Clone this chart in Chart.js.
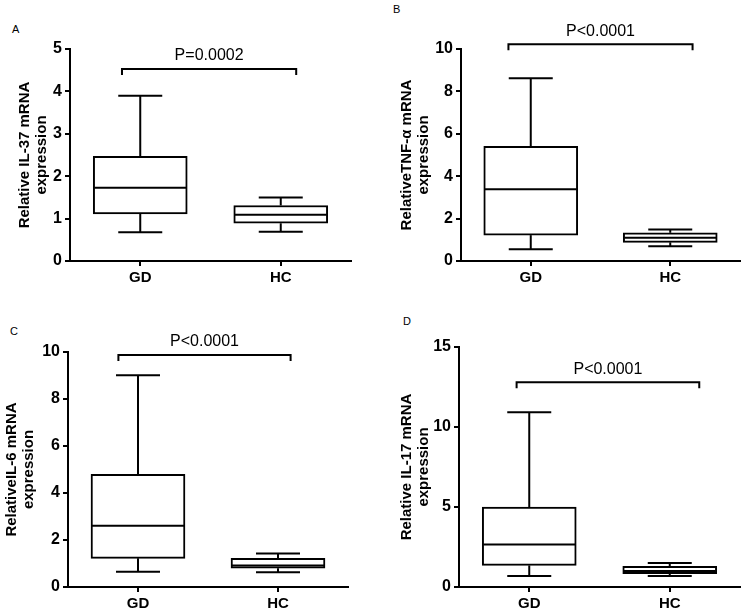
<!DOCTYPE html>
<html>
<head>
<meta charset="utf-8">
<script src="https://cdn.jsdelivr.net/npm/chart.js@4.4.1/dist/chart.umd.min.js"></script>
<style>
  body { margin: 0; background: #fff; width: 745px; height: 611px; position: relative; overflow: hidden; }
  canvas { position: absolute; }
  .tag { position: absolute; font: 11px "Liberation Sans", Arial, sans-serif; line-height: 11px; color: #000; }
</style>
</head>
<body>
<div class="tag" style="left:12px;top:24px">A</div>
<div class="tag" style="left:393px;top:4px">B</div>
<div class="tag" style="left:10px;top:326px">C</div>
<div class="tag" style="left:403px;top:316px">D</div>
<canvas id="c0" width="372" height="305" style="left:0;top:0"></canvas>
<canvas id="c1" width="373" height="305" style="left:372px;top:0"></canvas>
<canvas id="c2" width="372" height="306" style="left:0;top:305px"></canvas>
<canvas id="c3" width="373" height="306" style="left:372px;top:305px"></canvas>
<script>
const groups = ['GD', 'HC'];

// box stats: [min, q1, median, q3, max]
const il37GD = [0.68, 1.11, 1.73, 2.47, 3.90];
const il37HC = [0.69, 0.89, 1.09, 1.31, 1.50];
const tnfGD = [0.56, 1.22, 3.39, 5.41, 8.62];
const tnfHC = [0.69, 0.88, 1.10, 1.33, 1.49];
const il6GD = [0.65, 1.22, 2.61, 4.79, 9.01];
const il6HC = [0.63, 0.80, 0.92, 1.22, 1.43];
const il17GD = [0.69, 1.35, 2.65, 5.00, 10.92];
const il17HC = [0.69, 0.83, 1.00, 1.29, 1.50];

const yTitles = [
  ['Relative IL-37 mRNA', 'expression'],
  ['RelativeTNF-\u03b1 mRNA', 'expression'],
  ['RelativeIL-6 mRNA', 'expression'],
  ['Relative IL-17 mRNA', 'expression']
];
const yMax = [5, 10, 10, 15];
const yStep = [1, 2, 2, 5];
const pLabels = ['P=0.0002', 'P<0.0001', 'P<0.0001', 'P<0.0001'];
const bracketY = [4.53, 10.22, 9.87, 12.8];
const bracketX = [[-0.13, 1.11], [-0.16, 1.16], [-0.14, 1.09], [-0.09, 1.21]];

const panelStats = [[il37GD, il37HC], [tnfGD, tnfHC], [il6GD, il6HC], [il17GD, il17HC]];

// where each panel's plot area sits (page pixels)
const layouts = [
  { left: 0,   top: 0,   w: 372, h: 305, l: 70,  t: 49,  r: 351, b: 261, titlePad: 16 },
  { left: 372, top: 0,   w: 373, h: 305, l: 461, t: 49,  r: 740, b: 261, titlePad: 26 },
  { left: 0,   top: 305, w: 372, h: 306, l: 68,  t: 352, r: 348, b: 587, titlePad: 3 },
  { left: 372, top: 305, w: 373, h: 306, l: 459, t: 347, r: 740, b: 587, titlePad: 26 }
];

Chart.defaults.font.family = '"Liberation Sans", Arial, sans-serif';
Chart.defaults.color = '#000';

const boxParts = {
  id: 'boxParts',
  afterDatasetsDraw(chart, args, opts) {
    const { ctx, scales: { x, y } } = chart;
    const line = (x1, y1, x2, y2) => {
      ctx.beginPath(); ctx.moveTo(x1, y1); ctx.lineTo(x2, y2); ctx.stroke();
    };
    ctx.save();
    ctx.strokeStyle = '#000';
    ctx.lineWidth = 2;
    opts.stats.forEach((s, i) => {
      const cx = x.getPixelForValue(i);
      const cap = 22, half = 46;
      const [lo, q1, med, q3, hi] = s.map(v => y.getPixelForValue(v));
      line(cx, lo, cx, q1);
      line(cx, q3, cx, hi);
      line(cx - cap, lo, cx + cap, lo);
      line(cx - cap, hi, cx + cap, hi);
      line(cx - half, med, cx + half, med);
    });
    // significance bracket
    const by = y.getPixelForValue(opts.bracket);
    const bx0 = x.getPixelForValue(opts.bracketX[0]);
    const bx1 = x.getPixelForValue(opts.bracketX[1]);
    ctx.beginPath();
    ctx.moveTo(bx0, by + 6); ctx.lineTo(bx0, by); ctx.lineTo(bx1, by); ctx.lineTo(bx1, by + 6);
    ctx.stroke();
    ctx.fillStyle = '#000';
    ctx.font = '16px "Liberation Sans", Arial, sans-serif';
    ctx.textAlign = 'center';
    ctx.textBaseline = 'bottom';
    ctx.fillText(opts.label, (bx0 + bx1) / 2, by - 5);
    ctx.restore();
  }
};

layouts.forEach((lay, p) => {
  const stats = panelStats[p];
  new Chart(document.getElementById('c' + p), {
    type: 'bar',
    data: {
      datasets: [{
        data: stats.map((s, i) => ({ x: i, y: [s[1], s[3]] })),
        backgroundColor: '#fff',
        borderColor: '#000',
        borderWidth: 2,
        borderSkipped: false,
        barThickness: 94
      }]
    },
    plugins: [boxParts],
    options: {
      responsive: false,
      animation: false,
      events: [],
      layout: {
        padding: { left: 0, top: lay.t - lay.top, right: lay.left + lay.w - lay.r, bottom: 0 }
      },
      plugins: {
        legend: { display: false },
        tooltip: { enabled: false },
        boxParts: { stats, bracket: bracketY[p], bracketX: bracketX[p], label: pLabels[p] }
      },
      scales: {
        x: {
          type: 'linear',
          min: -0.5,
          max: 1.5,
          offset: false,
          afterBuildTicks: s => { s.ticks = groups.map((g, i) => ({ value: i })); },
          afterFit: s => { s.height = lay.top + lay.h - lay.b; },
          ticks: { callback: v => groups[v], font: { size: 15, weight: 'bold' }, padding: 3, maxRotation: 0 },
          grid: { offset: false, drawOnChartArea: false, tickLength: 5, color: '#000', lineWidth: 2 },
          border: { display: true, color: '#000', width: 2 }
        },
        y: {
          min: 0,
          max: yMax[p],
          afterFit: s => { s.width = lay.l - lay.left; },
          ticks: { stepSize: yStep[p], font: { size: 16, weight: 'bold' }, padding: 3 },
          grid: { drawOnChartArea: false, tickLength: 5, color: '#000', lineWidth: 2 },
          border: { display: true, color: '#000', width: 2 },
          title: {
            display: true,
            text: yTitles[p],
            font: { size: 15, weight: 'bold', lineHeight: 1.15 },
            padding: { top: lay.titlePad, bottom: 0 }
          }
        }
      }
    }
  });
});
</script>
</body>
</html>
